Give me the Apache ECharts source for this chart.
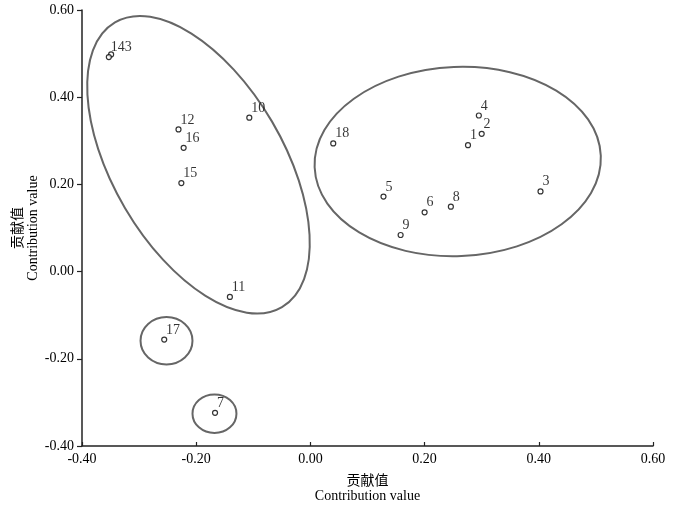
<!DOCTYPE html>
<html>
<head>
<meta charset="utf-8">
<script src="https://cdn.jsdelivr.net/npm/echarts@6/dist/echarts.min.js"></script>
<style>
  html, body { margin: 0; padding: 0; background: #fff; }
  #chart { width: 700px; height: 507px; }
</style>
</head>
<body>
<div id="chart"></div>
<script>
// point ids and contribution values
const pointNames = ['1', '2', '3', '4', '5', '6', '7', '8', '9', '10', '11', '12', '13', '14', '15', '16', '17', '18']
const pointLabels = ['1', '2', '3', '4', '5', '6', '7', '8', '9', '10', '11', '12', '', '143', '15', '16', '17', '18']
const xValues = [0.276, 0.300, 0.403, 0.295, 0.128, 0.200, -0.167, 0.246, 0.158, -0.107, -0.141, -0.231, -0.349, -0.353, -0.226, -0.222, -0.256, 0.040]
const yValues = [0.290, 0.316, 0.184, 0.358, 0.172, 0.136, -0.324, 0.149, 0.084, 0.353, -0.058, 0.326, 0.498, 0.492, 0.203, 0.284, -0.156, 0.294]

// group outlines: centre (x, y), half axes (in x units, in y units), tilt in degrees
const groupCx = [-0.196, 0.258, -0.252, -0.168]
const groupCy = [0.245, 0.2525, -0.1585, -0.3258]
const groupRx = [0.289, 0.2508, 0.0455, 0.0385]
const groupRy = [0.1956, 0.217, 0.0543, 0.0442]
const groupTilt = [-59.6, 2.3, 0, 0]

const xTicks = { min: -0.4, max: 0.6, interval: 0.2 }
const yTicks = { min: -0.4, max: 0.6, interval: 0.2 }

const serif = '"Liberation Serif", "Times New Roman", serif'
const cjk = '"Noto Sans CJK SC", sans-serif'

const points = pointNames.map((n, i) => ({ name: n, value: [xValues[i], yValues[i]], label: { formatter: pointLabels[i] } }))
const groups = groupCx.map((c, i) => [c, groupCy[i], groupRx[i], groupRy[i], groupTilt[i]])

const chart = echarts.init(document.getElementById('chart'))

const axisText = { color: '#000', fontFamily: serif, fontSize: 14 }
const nameRich = {
  cn: { fontFamily: cjk, fontSize: 14, color: '#000', lineHeight: 17, align: 'center' },
  en: { fontFamily: serif, fontSize: 14, color: '#000', lineHeight: 16, align: 'center' }
}

chart.setOption({
  animation: false,
  grid: { left: 82, right: 47, top: 10, bottom: 61, outerBoundsMode: 'none' },
  xAxis: {
    type: 'value',
    min: xTicks.min,
    max: xTicks.max,
    interval: xTicks.interval,
    name: '{cn|贡献值}\n{en|Contribution value}',
    nameLocation: 'middle',
    nameGap: 25,
    nameMoveOverlap: false,
    nameTextStyle: { rich: nameRich },
    axisLine: { onZero: false, lineStyle: { color: '#222', width: 1.5 } },
    axisTick: { inside: true, length: 4, lineStyle: { color: '#222', width: 1.2 } },
    axisLabel: Object.assign({ margin: 6, formatter: v => v.toFixed(2) }, axisText),
    splitLine: { show: false }
  },
  yAxis: {
    type: 'value',
    min: yTicks.min,
    max: yTicks.max,
    interval: yTicks.interval,
    name: '{cn|贡献值}\n{en|Contribution value}',
    nameLocation: 'middle',
    nameRotate: 90,
    nameGap: 41,
    nameMoveOverlap: false,
    nameTextStyle: { rich: nameRich },
    axisLine: { onZero: false, lineStyle: { color: '#222', width: 1.5 } },
    axisTick: { inside: false, length: 5, lineStyle: { color: '#222', width: 1.2 } },
    axisLabel: Object.assign({ margin: 8, formatter: v => v.toFixed(2) }, axisText),
    splitLine: { show: false }
  },
  series: [
    {
      type: 'custom',
      data: groups,
      silent: true,
      renderItem: (params, api) => {
        const c = api.coord([api.value(0), api.value(1)])
        const s = api.size([api.value(2), api.value(3)])
        return {
          type: 'ellipse',
          x: c[0],
          y: c[1],
          rotation: api.value(4) * Math.PI / 180,
          shape: { cx: 0, cy: 0, rx: s[0], ry: s[1] },
          style: { fill: 'none', stroke: '#666', lineWidth: 2 }
        }
      }
    },
    {
      type: 'scatter',
      data: points,
      symbol: 'circle',
      symbolSize: 5,
      itemStyle: { color: '#fff', borderColor: '#000', borderWidth: 1.2 },
      label: {
        show: true,
        position: [5, -6.5],
        align: 'left',
        verticalAlign: 'middle',
        color: '#000',
        fontFamily: serif,
        fontSize: 14
      }
    }
  ]
})
</script>
</body>
</html>
